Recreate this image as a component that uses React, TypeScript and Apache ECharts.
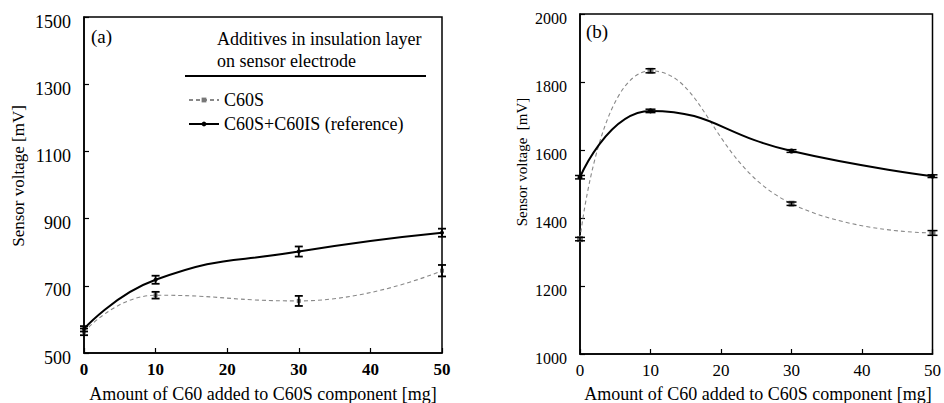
import React, { useEffect, useRef } from "react";
import * as echarts from "echarts";

// ---------- data ----------
const xValues = [0, 10, 30, 50];
const xTicks = [0, 10, 20, 30, 40, 50];

// panel (a)
const aC60S = [563, 672, 655, 745];
const aC60SErr = [10, 10, 15, 17];
const aRef = [572, 718, 802, 858];
const aRefErr = [8, 12, 15, 12];
const aYTicks = [500, 700, 900, 1100, 1300, 1500];

// panel (b)
const bC60S = [1338, 1833, 1442, 1356];
const bC60SErr = [5, 6, 5, 7];
const bRef = [1520, 1715, 1597, 1523];
const bRefErr = [5, 5, 4, 4];
const bYTicks = [1000, 1200, 1400, 1600, 1800, 2000];

const seriesNames = ["C60S", "C60S+C60IS (reference)"];
const legendTitle = ["Additives in insulation layer", "on sensor electrode"];
const xTitle = "Amount of C60 added to C60S component [mg]";

const FONT = "Liberation Serif";

function pairs(vals: number[]) {
  return xValues.map((x, i) => [x, vals[i]]);
}
function errData(vals: number[], errs: number[]) {
  return xValues.map((x, i) => [x, vals[i] - errs[i], vals[i] + errs[i]]);
}

function errSeries(idx: number, vals: number[], errs: number[], cap: number, w: number) {
  return {
    type: "custom",
    xAxisIndex: idx,
    yAxisIndex: idx,
    z: 5,
    silent: true,
    encode: { x: 0, y: [1, 2] },
    data: errData(vals, errs),
    renderItem: (params: any, api: any) => {
      const x = api.value(0);
      const lo = api.coord([x, api.value(1)]);
      const hi = api.coord([x, api.value(2)]);
      const st = { stroke: "#000", lineWidth: w };
      return {
        type: "group",
        children: [
          { type: "line", shape: { x1: lo[0], y1: lo[1], x2: hi[0], y2: hi[1] }, style: st },
          { type: "line", shape: { x1: lo[0] - cap, y1: lo[1], x2: lo[0] + cap, y2: lo[1] }, style: st },
          { type: "line", shape: { x1: hi[0] - cap, y1: hi[1], x2: hi[0] + cap, y2: hi[1] }, style: st },
        ],
      };
    },
  };
}

function xAxis(idx: number, bold: boolean) {
  return {
    type: "value",
    gridIndex: idx,
    min: xTicks[0],
    max: xTicks[xTicks.length - 1],
    interval: 10,
    axisLine: { show: true, lineStyle: { color: "#000", width: 1.5 } },
    axisTick: { show: true, inside: true, length: 5, lineStyle: { color: "#000", width: 1.2 } },
    splitLine: { show: false },
    axisLabel: {
      color: "#000",
      fontFamily: FONT,
      fontSize: 17,
      fontWeight: bold ? "bold" : "normal",
      margin: 8,
      formatter: (v: number) => String(v),
    },
  };
}

function yAxis(idx: number, ticks: number[], fs: number) {
  return {
    type: "value",
    gridIndex: idx,
    min: ticks[0],
    max: ticks[ticks.length - 1],
    interval: ticks[1] - ticks[0],
    axisLine: { show: true, lineStyle: { color: "#000", width: 1.5 } },
    axisTick: { show: true, inside: true, length: 5, lineStyle: { color: "#000", width: 1.2 } },
    splitLine: { show: false },
    axisLabel: {
      color: "#000",
      margin: 13,
      formatter: (v: number) => "{t|" + v + "}",
      rich: {
        t: { fontFamily: FONT, fontSize: fs, color: "#000", padding: [9, 0, 0, 0] },
      },
    },
  };
}

function lineSeries(idx: number, name: string, vals: number[], dashed: boolean, symSize: number) {
  return {
    type: "line",
    name,
    xAxisIndex: idx,
    yAxisIndex: idx,
    data: pairs(vals),
    smooth: 0.5,
    symbol: dashed ? "rect" : "circle",
    symbolSize: symSize,
    showSymbol: true,
    itemStyle: { color: dashed ? "#777" : "#000" },
    lineStyle: dashed
      ? { color: "#888", width: 1.1, type: [4, 3] }
      : { color: "#000", width: 2 },
    z: 3,
  };
}

function txt(extra: any, text: string, size: number, more: any = {}) {
  return {
    type: "text",
    ...extra,
    style: { text, fontFamily: FONT, fontSize: size, fill: "#000", ...more },
  };
}

export default function App() {
  const ref = useRef<HTMLDivElement>(null);
  useEffect(() => {
    if (!ref.current) return;
    const chart = echarts.init(ref.current, null, { renderer: "svg" });
    const option: any = {
      animation: false,
      backgroundColor: "#fff",
      textStyle: { fontFamily: FONT },
      grid: [
        { left: 84, top: 17, width: 358, height: 336, show: true, borderColor: "#000", borderWidth: 1.5, backgroundColor: "transparent" },
        { left: 580, top: 14, width: 355, height: 340, show: true, borderColor: "#000", borderWidth: 1.5, backgroundColor: "transparent" },
      ],
      xAxis: [xAxis(0, true), xAxis(1, false)],
      yAxis: [yAxis(0, aYTicks, 18), yAxis(1, bYTicks, 16)],
      legend: {
        show: true,
        orient: "vertical",
        left: 183,
        top: 86,
        itemWidth: 30,
        itemHeight: 6,
        itemGap: 6,
        data: seriesNames,
        textStyle: { color: "#000", fontFamily: FONT, fontSize: 18 },
      },
      series: [
        lineSeries(0, seriesNames[0], aC60S, true, 4),
        lineSeries(0, seriesNames[1], aRef, false, 4),
        errSeries(0, aC60S, aC60SErr, 4, 1.8),
        errSeries(0, aRef, aRefErr, 4, 1.8),
        lineSeries(1, seriesNames[0] + " ", bC60S, true, 6),
        lineSeries(1, seriesNames[1] + " ", bRef, false, 5),
        errSeries(1, bC60S, bC60SErr, 5, 1.5),
        errSeries(1, bRef, bRefErr, 5, 1.5),
      ],
      graphic: [
        txt({ left: 91, top: 27 }, "(a)", 19),
        txt({ left: 586, top: 22 }, "(b)", 19),
        txt({ left: 217, top: 30 }, legendTitle[0], 18),
        txt({ left: 217, top: 52 }, legendTitle[1], 18),
        { type: "line", shape: { x1: 185, y1: 76, x2: 426, y2: 76 }, style: { stroke: "#000", lineWidth: 1.8 } },
        txt({ x: 18, y: 176, rotation: Math.PI / 2 }, "Sensor voltage [mV]", 17, { align: "center", verticalAlign: "middle" }),
        txt({ x: 522, y: 162, rotation: Math.PI / 2 }, "Sensor voltage  [mV]", 15, { align: "center", verticalAlign: "middle" }),
        txt({ x: 263, y: 394 }, xTitle, 18, { align: "center", verticalAlign: "middle" }),
        txt({ x: 758, y: 394 }, xTitle, 18, { align: "center", verticalAlign: "middle" }),
      ],
    };
    chart.setOption(option);
    return () => chart.dispose();
  }, []);
  return <div ref={ref} style={{ width: 944, height: 403, position: "absolute", left: 0, top: 0 }} />;
}
